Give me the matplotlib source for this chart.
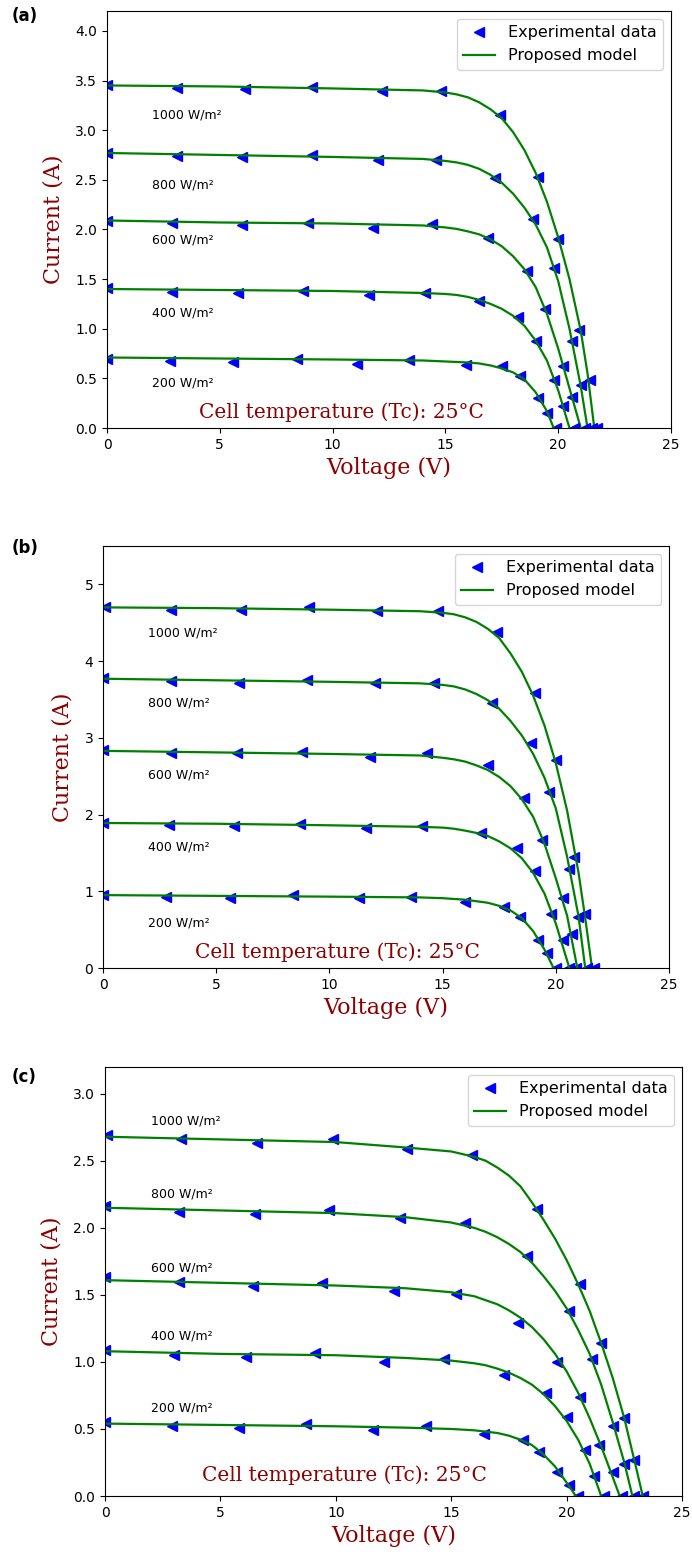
import matplotlib
matplotlib.use("Agg")
import matplotlib.pyplot as plt

# irradiance levels (same order in every panel)
irr_labels = ['1000 W/m²', '800 W/m²', '600 W/m²', '400 W/m²', '200 W/m²']

# ---- panel (a) ----
a_exp_v = [[0, 3.1, 6.1, 9.1, 12.2, 14.8, 17.4, 19.1, 20.0, 20.9, 21.4, 21.7],
           [0, 3.1, 6.0, 9.1, 12.0, 14.6, 17.2, 18.9, 19.8, 20.6, 21.0, 21.5],
           [0, 2.9, 6.0, 8.9, 11.8, 14.4, 16.9, 18.6, 19.4, 20.2, 20.6, 21.2],
           [0, 2.9, 5.8, 8.7, 11.6, 14.1, 16.5, 18.2, 19.0, 19.8, 20.2, 20.7],
           [0, 2.8, 5.6, 8.4, 11.1, 13.4, 15.9, 17.5, 18.3, 19.1, 19.5, 19.9]]
a_exp_i = [[3.45, 3.42, 3.41, 3.43, 3.39, 3.39, 3.15, 2.53, 1.90, 0.99, 0.48, 0.0],
           [2.77, 2.74, 2.73, 2.75, 2.70, 2.70, 2.52, 2.11, 1.61, 0.88, 0.43, 0.0],
           [2.08, 2.06, 2.04, 2.06, 2.01, 2.05, 1.91, 1.58, 1.20, 0.62, 0.31, 0.0],
           [1.41, 1.37, 1.36, 1.38, 1.34, 1.36, 1.28, 1.12, 0.88, 0.48, 0.22, 0.0],
           [0.70, 0.67, 0.66, 0.69, 0.64, 0.68, 0.63, 0.62, 0.52, 0.30, 0.15, 0.0]]
a_mod_v = [[0, 5, 10, 14, 15, 15.5, 16, 16.5, 17, 17.5, 18, 18.5, 19, 19.5, 20, 20.5, 21, 21.3, 21.6],
           [0, 5, 10, 14, 15, 15.5, 16, 16.5, 17, 17.5, 18, 18.5, 19, 19.5, 20, 20.5, 21, 21.3],
           [0, 5, 10, 14, 15, 15.5, 16, 16.5, 17, 17.5, 18, 18.5, 19, 19.5, 20, 20.5, 21.0],
           [0, 5, 10, 14, 15, 15.5, 16, 16.5, 17, 17.5, 18, 18.5, 19, 19.5, 20, 20.5],
           [0, 5, 10, 14, 15, 15.5, 16, 16.5, 17, 17.5, 18, 18.5, 19, 19.5, 19.8]]
a_mod_i = [[3.45, 3.44, 3.42, 3.40, 3.38, 3.36, 3.33, 3.28, 3.21, 3.12, 2.98, 2.80, 2.57, 2.28, 1.92, 1.50, 0.98, 0.55, 0.0],
           [2.77, 2.75, 2.73, 2.71, 2.69, 2.675, 2.65, 2.61, 2.55, 2.47, 2.36, 2.22, 2.05, 1.82, 1.48, 1.00, 0.42, 0.0],
           [2.09, 2.07, 2.06, 2.04, 2.02, 2.005, 1.98, 1.95, 1.90, 1.83, 1.73, 1.60, 1.42, 1.15, 0.80, 0.40, 0.0],
           [1.40, 1.39, 1.38, 1.36, 1.35, 1.34, 1.32, 1.29, 1.25, 1.20, 1.13, 1.03, 0.88, 0.68, 0.38, 0.0],
           [0.71, 0.70, 0.69, 0.68, 0.67, 0.665, 0.66, 0.65, 0.63, 0.60, 0.56, 0.49, 0.36, 0.17, 0.0]]
a_label_y = [3.15, 2.45, 1.89, 1.16, 0.45]

# ---- panel (b) ----
b_exp_v = [[0.1, 3.0, 6.1, 9.1, 12.1, 14.8, 17.4, 19.1, 20.0, 20.8, 21.3, 21.7],
           [0, 3.0, 6.0, 9.0, 12.0, 14.6, 17.2, 18.9, 19.7, 20.6, 21.0, 21.4],
           [0, 3.0, 5.9, 8.8, 11.8, 14.3, 17.0, 18.6, 19.4, 20.3, 20.7, 20.9],
           [0, 2.9, 5.8, 8.7, 11.6, 14.1, 16.7, 18.3, 19.1, 19.8, 20.3, 20.6],
           [0, 2.8, 5.6, 8.4, 11.3, 13.6, 16.0, 17.7, 18.4, 19.2, 19.6, 20.0]]
b_exp_i = [[4.71, 4.67, 4.66, 4.70, 4.65, 4.65, 4.38, 3.58, 2.71, 1.45, 0.70, 0.0],
           [3.78, 3.74, 3.72, 3.76, 3.71, 3.71, 3.46, 2.93, 2.30, 1.29, 0.67, 0.0],
           [2.84, 2.80, 2.80, 2.81, 2.75, 2.80, 2.64, 2.21, 1.67, 0.91, 0.44, 0.0],
           [1.89, 1.87, 1.85, 1.88, 1.83, 1.85, 1.76, 1.57, 1.27, 0.71, 0.36, 0.0],
           [0.95, 0.93, 0.91, 0.95, 0.91, 0.92, 0.86, 0.80, 0.66, 0.37, 0.19, 0.0]]
b_mod_v = [[0, 5, 10, 14, 15, 15.5, 16, 16.5, 17, 17.5, 18, 18.5, 19, 19.5, 20, 20.5, 21, 21.3, 21.6],
           [0, 5, 10, 14, 15, 15.5, 16, 16.5, 17, 17.5, 18, 18.5, 19, 19.5, 20, 20.5, 21, 21.3],
           [0, 5, 10, 14, 15, 15.5, 16, 16.5, 17, 17.5, 18, 18.5, 19, 19.5, 20, 20.5, 20.95],
           [0, 5, 10, 14, 15, 15.5, 16, 16.5, 17, 17.5, 18, 18.5, 19, 19.5, 20, 20.6],
           [0, 5, 10, 14, 15, 15.5, 16, 16.5, 17, 17.5, 18, 18.5, 19, 19.5, 19.9]]
b_mod_i = [[4.70, 4.69, 4.67, 4.65, 4.63, 4.61, 4.57, 4.51, 4.42, 4.30, 4.10, 3.86, 3.55, 3.16, 2.67, 2.05, 1.25, 0.65, 0.0],
           [3.77, 3.75, 3.73, 3.71, 3.69, 3.67, 3.63, 3.57, 3.49, 3.38, 3.22, 3.03, 2.79, 2.48, 2.08, 1.45, 0.68, 0.0],
           [2.83, 2.81, 2.79, 2.77, 2.74, 2.72, 2.69, 2.64, 2.58, 2.49, 2.37, 2.20, 1.97, 1.62, 1.17, 0.68, 0.0],
           [1.89, 1.88, 1.86, 1.84, 1.83, 1.815, 1.79, 1.76, 1.72, 1.65, 1.56, 1.43, 1.24, 0.97, 0.58, 0.0],
           [0.95, 0.94, 0.93, 0.92, 0.91, 0.90, 0.89, 0.87, 0.85, 0.81, 0.75, 0.65, 0.48, 0.24, 0.0]]
b_label_y = [4.36, 3.46, 2.51, 1.58, 0.59]

# ---- panel (c) ----
c_exp_v = [[0.1, 3.3, 6.6, 9.9, 13.1, 15.9, 18.7, 20.6, 21.5, 22.5, 22.9, 23.3],
           [0, 3.2, 6.5, 9.7, 12.8, 15.6, 18.3, 20.1, 21.1, 22.0, 22.5, 22.9],
           [0, 3.2, 6.4, 9.4, 12.5, 15.2, 17.9, 19.6, 20.6, 21.4, 22.0, 22.4],
           [0, 3.0, 6.1, 9.1, 12.1, 14.7, 17.3, 19.1, 20.0, 20.8, 21.2, 21.6],
           [0, 2.9, 5.8, 8.7, 11.6, 13.9, 16.4, 18.1, 18.8, 19.6, 20.1, 20.5]]
c_exp_i = [[2.69, 2.66, 2.63, 2.66, 2.59, 2.54, 2.14, 1.58, 1.14, 0.58, 0.27, 0.0],
           [2.16, 2.12, 2.10, 2.13, 2.07, 2.04, 1.79, 1.38, 1.02, 0.52, 0.24, 0.0],
           [1.63, 1.60, 1.57, 1.59, 1.53, 1.51, 1.29, 1.00, 0.74, 0.38, 0.18, 0.0],
           [1.09, 1.05, 1.04, 1.07, 1.00, 1.02, 0.90, 0.77, 0.59, 0.34, 0.15, 0.0],
           [0.55, 0.52, 0.51, 0.54, 0.49, 0.52, 0.46, 0.42, 0.33, 0.18, 0.08, 0.0]]
c_mod_v = [[0, 5, 10, 13, 15, 16, 16.5, 17, 17.5, 18, 18.5, 19, 19.5, 20, 20.5, 21, 21.5, 22, 22.5, 23, 23.3],
           [0, 5, 10, 13, 15, 16, 16.5, 17, 17.5, 18, 18.5, 19, 19.5, 20, 20.5, 21, 21.5, 22, 22.5, 22.85],
           [0, 5, 10, 13, 15, 16, 16.5, 17, 17.5, 18, 18.5, 19, 19.5, 20, 20.5, 21, 21.5, 22, 22.3],
           [0, 5, 10, 13, 15, 16, 16.5, 17, 17.5, 18, 18.5, 19, 19.5, 20, 20.5, 21, 21.5],
           [0, 5, 10, 13, 15, 16, 16.5, 17, 17.5, 18, 18.5, 19, 19.5, 20, 20.4]]
c_mod_i = [[2.68, 2.66, 2.64, 2.60, 2.57, 2.53, 2.50, 2.45, 2.39, 2.31, 2.19, 2.06, 1.92, 1.76, 1.58, 1.38, 1.14, 0.88, 0.58, 0.22, 0.0],
           [2.15, 2.13, 2.11, 2.08, 2.04, 2.00, 1.97, 1.93, 1.88, 1.82, 1.74, 1.64, 1.53, 1.40, 1.24, 1.06, 0.83, 0.55, 0.25, 0.0],
           [1.61, 1.59, 1.57, 1.55, 1.52, 1.49, 1.46, 1.43, 1.385, 1.33, 1.26, 1.17, 1.06, 0.93, 0.77, 0.58, 0.37, 0.14, 0.0],
           [1.08, 1.06, 1.05, 1.03, 1.01, 0.99, 0.975, 0.95, 0.92, 0.88, 0.83, 0.76, 0.67, 0.56, 0.42, 0.24, 0.0],
           [0.54, 0.53, 0.52, 0.51, 0.50, 0.49, 0.48, 0.47, 0.45, 0.42, 0.38, 0.31, 0.22, 0.10, 0.0]]
c_label_y = [2.80, 2.25, 1.70, 1.19, 0.66]

W, H = 692, 1555
fig = plt.figure(figsize=(W / 100, H / 100), dpi=100)


def add_axes_px(left, right, top, bottom):
    # axes rectangle given in pixel coordinates of the final image
    return fig.add_axes([left / W, 1 - bottom / H, (right - left) / W, (bottom - top) / H])


def draw_panel(ax, exp_v, exp_i, mod_v, mod_i, label_y, ymax, yticks, yfmt, temp_y):
    for k in range(len(exp_v)):
        ax.plot(exp_v[k], exp_i[k], '<', color='blue', markersize=7,
                label='Experimental data' if k == 0 else None)
        ax.plot(mod_v[k], mod_i[k], '-', color='green', linewidth=1.6,
                label='Proposed model' if k == 0 else None)
        ax.text(2.0, label_y[k], irr_labels[k], fontsize=9, va='center', ha='left')

    ax.set_xlim(0, 25)
    ax.set_ylim(0, ymax)
    ax.set_xticks([0, 5, 10, 15, 20, 25])
    ax.set_yticks(yticks)
    ax.set_yticklabels([yfmt.format(t) for t in yticks])
    ax.tick_params(labelsize=10)

    ax.set_xlabel('Voltage (V)', family='DejaVu Serif', fontsize=16, color='#8b0000')
    ax.set_ylabel('Current (A)', family='DejaVu Serif', fontsize=16, color='#8b0000', labelpad=8)
    ax.text(0.415, temp_y, 'Cell temperature (Tc): 25°C', transform=ax.transAxes,
            family='DejaVu Serif', fontsize=14.5, color='#8b0000', ha='center', va='center')
    ax.legend(loc='upper right', fontsize=11.5)


ax_a = add_axes_px(107, 671, 11, 428)
draw_panel(ax_a, a_exp_v, a_exp_i, a_mod_v, a_mod_i, a_label_y, 4.2,
           [0, 0.5, 1.0, 1.5, 2.0, 2.5, 3.0, 3.5, 4.0], '{:.1f}', 0.038)

ax_b = add_axes_px(103, 669, 546, 968)
draw_panel(ax_b, b_exp_v, b_exp_i, b_mod_v, b_mod_i, b_label_y, 5.5,
           [0, 1, 2, 3, 4, 5], '{:d}', 0.038)

ax_c = add_axes_px(105, 682, 1067, 1496)
draw_panel(ax_c, c_exp_v, c_exp_i, c_mod_v, c_mod_i, c_label_y, 3.2,
           [0, 0.5, 1.0, 1.5, 2.0, 2.5, 3.0], '{:.1f}', 0.049)

# panel tags
for tag, ypx in [('(a)', 16), ('(b)', 548), ('(c)', 1077)]:
    fig.text(12 / W, 1 - ypx / H, tag, fontsize=12, fontweight='bold', va='center', ha='left')

fig.savefig('out.png', dpi=100)
